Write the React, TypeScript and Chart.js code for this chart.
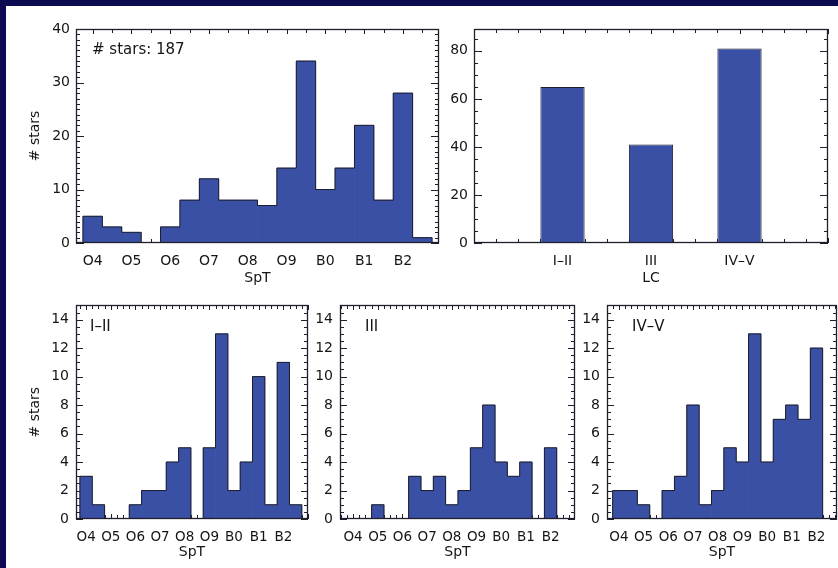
import React, { useEffect, useRef } from 'react';
import { Chart, registerables } from 'chart.js';

Chart.register(...registerables);

// ---------------- data ----------------
const SPT_TICK_VALUES = [0, 1, 2, 3, 4, 5, 6, 7, 8];
const SPT_LABELS = ['O4', 'O5', 'O6', 'O7', 'O8', 'O9', 'B0', 'B1', 'B2'];
// half-subtype bins: O4, O4.5, O5, ... B2, B2.5
const BIN_CENTERS = [0, 0.5, 1, 1.5, 2, 2.5, 3, 3.5, 4, 4.5, 5, 5.5, 6, 6.5, 7, 7.5, 8, 8.5];
const BIN_WIDTH = 0.5;
const COUNTS_ALL = [5, 3, 2, 0, 3, 8, 12, 8, 8, 7, 14, 34, 10, 14, 22, 8, 28, 1];
const COUNTS_I_II = [3, 1, 0, 0, 1, 2, 2, 4, 5, 0, 5, 13, 2, 4, 10, 1, 11, 1];
const COUNTS_III = [0, 0, 1, 0, 0, 3, 2, 3, 1, 2, 5, 8, 4, 3, 4, 0, 5, 0];
const COUNTS_IV_V = [2, 2, 1, 0, 2, 3, 8, 1, 2, 5, 4, 13, 4, 7, 8, 7, 12, 0];

const LC_POSITIONS = [0, 1, 2];
const LC_LABELS = ['I–II', 'III', 'IV–V'];
const LC_COUNTS = [65, 41, 81];

const TOTAL_NOTE = '# stars: 187';
const Y_TITLE = '# stars';

// ---------------- styles ----------------
const FONT = "'DejaVu Sans', 'Liberation Sans', sans-serif";
const TEXT = '#151515';
const INK = '#1e1e2c';
const BLUE = '#3a50a4';
const NAVY = '#0c0b52';

const idlAxes = {
  id: 'idlAxes',
  beforeDatasetsDraw(chart: any, _args: any, o: any) {
    const { ctx, chartArea: ca, scales } = chart;
    const xs = scales.x;
    const ys = scales.y;
    const L = Math.round(ca.left), R = Math.round(ca.right);
    const T = Math.round(ca.top), B = Math.round(ca.bottom);
    ctx.save();
    ctx.strokeStyle = INK;
    ctx.lineWidth = 1;
    ctx.beginPath();
    const loop = (min: number, max: number, step: number, major: number, fn: (v: number, m: boolean) => void) => {
      const start = Math.ceil(min / step - 1e-9);
      for (let k = start; k * step <= max + 1e-9; k++) {
        const v = k * step;
        const m = Math.abs(v / major - Math.round(v / major)) < 1e-6;
        fn(v, m);
      }
    };
    loop(ys.min, ys.max, o.yMinor, o.yMajor, (v, m) => {
      const y = Math.round(ys.getPixelForValue(v)) + 0.5;
      const len = m ? o.yMajorLen : o.yMinorLen;
      ctx.moveTo(L, y); ctx.lineTo(L + len, y);
      ctx.moveTo(R, y); ctx.lineTo(R - len, y);
    });
    loop(xs.min, xs.max, o.xMinor, o.xMajor, (v, m) => {
      const x = Math.round(xs.getPixelForValue(v)) + 0.5;
      const len = m ? o.xMajorLen : o.xMinorLen;
      ctx.moveTo(x, B); ctx.lineTo(x, B - len);
      ctx.moveTo(x, T); ctx.lineTo(x, T + len);
    });
    ctx.stroke();
    ctx.restore();
  },
  afterDatasetsDraw(chart: any, _args: any, o: any) {
    const { ctx, chartArea: ca } = chart;
    const L = Math.round(ca.left), R = Math.round(ca.right);
    const T = Math.round(ca.top), B = Math.round(ca.bottom);
    ctx.save();
    ctx.strokeStyle = INK;
    ctx.lineWidth = 1.3;
    ctx.strokeRect(L + 0.5, T + 0.5, R - L - 1, B - T - 1);
    if (o.note) {
      ctx.fillStyle = TEXT;
      ctx.font = `15px ${FONT}`;
      ctx.textAlign = 'left';
      ctx.textBaseline = 'middle';
      ctx.fillText(o.note, L + o.noteDx, T + o.noteDy);
    }
    ctx.restore();
  },
};

function sptLabel(value: any) {
  const i = SPT_TICK_VALUES.indexOf(Number(value));
  return i >= 0 ? SPT_LABELS[i] : '';
}

function lcLabel(value: any) {
  const i = LC_POSITIONS.indexOf(Number(value));
  return i >= 0 ? LC_LABELS[i] : '';
}

function baseOptions(p: any) {
  return {
    responsive: false,
    animation: false,
    events: [],
    layout: { padding: { top: p.padTop, right: p.padRight, left: 0, bottom: 0 } },
    plugins: {
      legend: { display: false },
      tooltip: { enabled: false },
      idlAxes: p.axes,
    },
  };
}

function yScale(p: any) {
  return {
    type: 'linear',
    min: 0,
    max: p.yMax,
    grid: { display: false, drawTicks: false },
    border: { display: false },
    ticks: {
      stepSize: p.yStep,
      includeBounds: false,
      padding: p.yLabelPad,
      color: TEXT,
      font: { family: FONT, size: 14 },
    },
    title: {
      display: !!p.yTitle,
      text: Y_TITLE,
      color: TEXT,
      font: { family: FONT, size: 14 },
      padding: { top: 17, bottom: 0 },
    },
    afterFit: (s: any) => { s.width = p.yW; },
  };
}

function histConfig(counts: number[], p: any) {
  const last = BIN_CENTERS.length - 1;
  const half = BIN_WIDTH / 2;
  const bars = BIN_CENTERS.map((x, i) => ({ x, y: counts[i] }));
  const outline = [
    { x: BIN_CENTERS[0] - half, y: 0 },
    ...BIN_CENTERS.map((x, i) => ({ x: x - half, y: counts[i] })),
    { x: BIN_CENTERS[last] + half, y: counts[last] },
    { x: BIN_CENTERS[last] + half, y: 0 },
  ];
  return {
    type: 'bar',
    plugins: [idlAxes],
    data: {
      datasets: [
        { type: 'line', data: outline, stepped: true, borderColor: INK, borderWidth: 1, pointRadius: 0, fill: false, order: 0 },
        { type: 'bar', data: bars, backgroundColor: BLUE, borderWidth: 0, barPercentage: 1, categoryPercentage: 1, order: 1 },
      ],
    },
    options: {
      ...baseOptions(p),
      scales: {
        x: {
          type: 'linear',
          min: p.xMin,
          max: p.xMax,
          offset: false,
          grid: { display: false, drawTicks: false },
          border: { display: false },
          ticks: {
            stepSize: 1,
            includeBounds: false,
            autoSkip: false,
            maxRotation: 0,
            minRotation: 0,
            padding: p.xLabelPad,
            color: TEXT,
            font: { family: FONT, size: p.xTickSize },
            callback: sptLabel,
          },
          title: {
            display: true,
            text: 'SpT',
            color: TEXT,
            font: { family: FONT, size: 14 },
            padding: { top: 0, bottom: p.titlePadBottom },
          },
          afterFit: (s: any) => { s.height = p.xH; },
        },
        y: yScale(p),
      },
    },
  };
}

function lcConfig(p: any) {
  return {
    type: 'bar',
    plugins: [idlAxes],
    data: {
      datasets: [
        {
          data: LC_POSITIONS.map((x, i) => ({ x, y: LC_COUNTS[i] })),
          backgroundColor: BLUE,
          borderColor: INK,
          borderWidth: 1,
          borderSkipped: false,
          inflateAmount: 0,
          barPercentage: 0.5,
          categoryPercentage: 1,
        },
      ],
    },
    options: {
      ...baseOptions(p),
      scales: {
        x: {
          type: 'linear',
          min: -1,
          max: 3,
          offset: false,
          grid: { display: false, drawTicks: false },
          border: { display: false },
          ticks: {
            stepSize: 1,
            includeBounds: false,
            autoSkip: false,
            maxRotation: 0,
            minRotation: 0,
            padding: p.xLabelPad,
            color: TEXT,
            font: { family: FONT, size: 14 },
            callback: lcLabel,
          },
          title: {
            display: true,
            text: 'LC',
            color: TEXT,
            font: { family: FONT, size: 14 },
            padding: { top: 0, bottom: p.titlePadBottom },
          },
          afterFit: (s: any) => { s.height = p.xH; },
        },
        y: yScale(p),
      },
    },
  };
}

function ChartPanel({ left, top, width, height, make }: any) {
  const ref = useRef<HTMLCanvasElement | null>(null);
  useEffect(() => {
    const chart = new Chart(ref.current as any, make());
    return () => chart.destroy();
  }, []);
  return (
    <canvas
      ref={ref}
      width={width}
      height={height}
      style={{ position: 'absolute', left, top, width, height }}
    />
  );
}

const topAxesHist = { yMajor: 10, yMinor: 1, yMajorLen: 8, yMinorLen: 4, xMajor: 1, xMinor: 0.5, xMajorLen: 5, xMinorLen: 4 };
const topAxesLC = { yMajor: 20, yMinor: 5, yMajorLen: 8, yMinorLen: 4, xMajor: 1, xMinor: 0.25, xMajorLen: 5, xMinorLen: 4 };
const botAxes = { yMajor: 2, yMinor: 0.5, yMajorLen: 7, yMinorLen: 4, xMajor: 1, xMinor: 0.25, xMajorLen: 5, xMinorLen: 4 };

export default function App() {
  return (
    <div style={{ position: 'fixed', left: 0, top: 0, width: 838, height: 568, background: NAVY, overflow: 'hidden' }}>
      <div style={{ position: 'absolute', left: 6, top: 6, right: 0, bottom: 0, background: '#ffffff' }} />
      <ChartPanel
        left={10} top={8} width={440} height={280}
        make={() => histConfig(COUNTS_ALL, {
          xMin: -0.43, xMax: 8.93, yMax: 40, yStep: 10, yW: 66, xH: 45, padTop: 21, padRight: 11,
          yTitle: true, yLabelPad: 6, xLabelPad: 10, xTickSize: 14, titlePadBottom: 1,
          axes: { ...topAxesHist, note: TOTAL_NOTE, noteDx: 16, noteDy: 21 },
        })}
      />
      <ChartPanel
        left={445} top={8} width={393} height={280}
        make={() => lcConfig({
          yMax: 89.1, yStep: 20, yW: 29, xH: 45, padTop: 21, padRight: 1,
          yTitle: false, yLabelPad: 6, xLabelPad: 10, titlePadBottom: 1,
          axes: { ...topAxesLC },
        })}
      />
      <ChartPanel
        left={10} top={290} width={310} height={278}
        make={() => histConfig(COUNTS_I_II, {
          xMin: -0.41, xMax: 9.0, yMax: 15, yStep: 2, yW: 66, xH: 49, padTop: 10, padRight: 12,
          yTitle: true, yLabelPad: 7, xLabelPad: 10, xTickSize: 13.5, titlePadBottom: 7,
          axes: { ...botAxes, note: LC_LABELS[0], noteDx: 14, noteDy: 22 },
        })}
      />
      <ChartPanel
        left={315} top={290} width={270} height={278}
        make={() => histConfig(COUNTS_III, {
          xMin: -0.53, xMax: 8.99, yMax: 15, yStep: 2, yW: 25, xH: 49, padTop: 10, padRight: 10,
          yTitle: false, yLabelPad: 7, xLabelPad: 10, xTickSize: 13.5, titlePadBottom: 7,
          axes: { ...botAxes, note: LC_LABELS[1], noteDx: 25, noteDy: 22 },
        })}
      />
      <ChartPanel
        left={580} top={290} width={258} height={278}
        make={() => histConfig(COUNTS_IV_V, {
          xMin: -0.48, xMax: 8.83, yMax: 15, yStep: 2, yW: 27, xH: 49, padTop: 10, padRight: 1,
          yTitle: false, yLabelPad: 7, xLabelPad: 10, xTickSize: 13.5, titlePadBottom: 7,
          axes: { ...botAxes, note: LC_LABELS[2], noteDx: 25, noteDy: 22 },
        })}
      />
    </div>
  );
}
